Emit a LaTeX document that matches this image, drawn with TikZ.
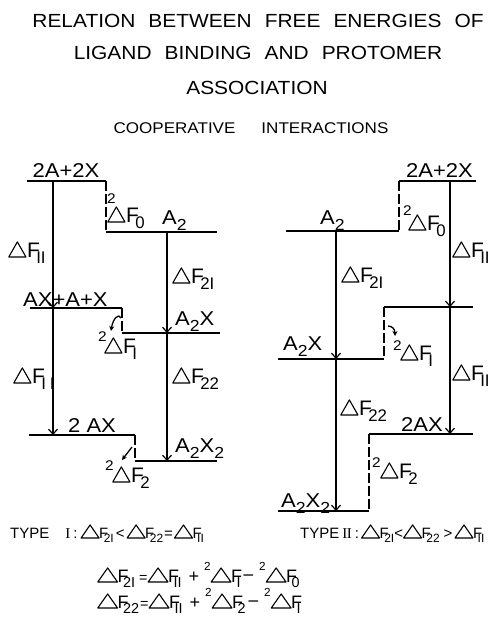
\documentclass[tikz,border=0pt]{standalone}
\usepackage{graphicx}
\usepackage{fontspec}
\setmainfont{Liberation Sans}[FakeStretch=1.1]
\newfontfamily\plain{Liberation Sans}
\newfontfamily\serifd{Liberation Serif}
\usetikzlibrary{arrows.meta}
\newcommand\trw{0.82}
\newcommand\trh{0.72}
\newcommand\tri{\tikz[baseline=0pt,x=1em,y=1em]\draw[line width=1.1pt,line join=round] (0,0)--(\trw,0)--(\trw/2,\trh)--cycle;}
\newcommand\sbx[1]{\raisebox{-0.3em}{\scalebox{0.8}{#1}}}
\newcommand\spx[1]{\raisebox{0.64em}{\scalebox{0.65}{#1}}}
\newcommand\dF[1]{\tri\kern0.5pt F\kern-0.17em\sbx{#1}}
\newcommand\dFb[1]{\tri\kern-0.5pt F\kern-0.3em\sbx{#1}}
\newcommand\mns{\raisebox{0.05em}{\scalebox{1.1}[1]{−}}}
\tikzset{
  lvl/.style={line width=1.4pt},
  dsh/.style={line width=1.4pt, dash pattern=on 10pt off 3pt},
  arr/.style={line width=1.2pt, -{Straight Barb[length=5pt,width=9pt]}},
  cur/.style={line width=1.3pt, -{Stealth[length=5pt,width=5pt]}},
  lab/.style={font=\fontsize{20}{20}\selectfont, inner sep=0pt, anchor=base west},
  dfl/.style={font=\plain\fontsize{21}{21}\selectfont, inner sep=0pt, anchor=base west},
  prescr/.style={font=\fontsize{14}{14}\selectfont, inner sep=0pt, anchor=base west},
  ttl/.style={font=\fontsize{19}{19}\selectfont, inner sep=0pt, anchor=base},
  eqa/.style={font=\plain\fontsize{15}{15}\selectfont, inner sep=0pt, anchor=base west},
  eqb/.style={font=\plain\fontsize{18}{18}\selectfont, inner sep=0pt, anchor=base west}
}
\begin{document}
\begin{tikzpicture}[x=1pt,y=-1pt]
\useasboundingbox (0,0) rectangle (489,623);
% titles
\node[ttl] (h1) at (258,28) {RELATION\hspace{13pt}BETWEEN\hspace{13pt}FREE\hspace{13pt}ENERGIES\hspace{13pt}OF};
\node[ttl] (h2) at (258,60) {LIGAND\hspace{13pt}BINDING\hspace{13pt}AND\hspace{13pt}PROTOMER};
\node[ttl] (h3) at (257,95) {ASSOCIATION};
\node[ttl, font=\fontsize{15.5}{15.5}\selectfont] (h4) at (251,133) {COOPERATIVE\hspace{26pt}INTERACTIONS};

% ---------- left diagram: level coordinates
\coordinate (a1) at (27,181);  \coordinate (a2) at (106,181);
\coordinate (b1) at (106,232); \coordinate (b2) at (217,232);
\coordinate (c1) at (30,308);  \coordinate (c2) at (122,308);
\coordinate (d1) at (122,333); \coordinate (d2) at (220,333);
\coordinate (e1) at (29,435);  \coordinate (e2) at (135,435);
\coordinate (f1) at (135,461); \coordinate (f2) at (217,461);
\coordinate (va0) at (53,181); \coordinate (va1) at (53,308); \coordinate (va2) at (53,435);
\coordinate (vb0) at (167,232); \coordinate (vb1) at (167,333); \coordinate (vb2) at (167,461);
\draw[lvl] (a1) -- (a2);
\draw[lvl] (b1) -- (b2);
\draw[lvl] (c1) -- (c2);
\draw[lvl] (d1) -- (d2);
\draw[lvl] (e1) -- (e2);
\draw[lvl] (f1) -- (f2);
\draw[dsh] (a2) -- (b1);
\draw[dsh] (c2) -- (d1);
\draw[dsh] (e2) -- (f1);
\draw[arr] (va0) -- (va1);
\draw[arr] (va1) -- (va2);
\draw[arr] (vb0) -- (vb1);
\draw[arr] (vb1) -- (vb2);
\coordinate (ca0) at (121,318); \coordinate (ca1) at (111,331);
\draw[cur] (ca0) .. controls (119,313) and (113,318) .. (ca1);
\coordinate (sa0) at (132,447); \coordinate (sa1) at (122,460);
\draw[cur] (sa0) -- (sa1);

\node[lab, anchor=base] (l1) at (66,177) {2A+2X};
\node[lab] (l2) at (162,224) {A\sbx{2}};
\node[prescr] (l3s) at (107,203) {2};
\node[dfl] (l3) at (107,222) {\dF{0}};
\node[dfl] (l4) at (8,257) {\dF{II}};
\node[lab] (l5) at (23,306) {AX+A+X};
\node[lab] (l6) at (175,325) {A\sbx{2}X};
\node[dfl] (l7) at (172,283) {\dF{2I}};
\node[prescr] (l8s) at (98,341) {2};
\node[dfl] (l8) at (104,353) {\dF{I}};
\node[dfl] (l9) at (13,383) {\dF{I\hspace{5pt}I}};
\node[dfl] (l10) at (172,383) {\dF{22}};
\node[lab] (l11) at (68,432) {2 AX};
\node[lab] (l12) at (175,452) {A\sbx{2}X\sbx{2}};
\node[prescr] (l13s) at (105,470) {2};
\node[dfl] (l13) at (112,482) {\dF{2}};

% ---------- right diagram
\coordinate (p1) at (399,181); \coordinate (p2) at (476,181);
\coordinate (q1) at (286,231); \coordinate (q2) at (399,231);
\coordinate (r1) at (384,307); \coordinate (r2) at (473,307);
\coordinate (s1) at (278,359); \coordinate (s2) at (384,359);
\coordinate (u1) at (369,434); \coordinate (u2) at (473,434);
\coordinate (w1) at (278,511); \coordinate (w2) at (369,511);
\coordinate (vc0) at (450,181); \coordinate (vc1) at (450,307); \coordinate (vc2) at (450,434);
\coordinate (vd0) at (336,231); \coordinate (vd1) at (336,359); \coordinate (vd2) at (336,511);
\draw[lvl] (p1) -- (p2);
\draw[lvl] (q1) -- (q2);
\draw[lvl] (r1) -- (r2);
\draw[lvl] (s1) -- (s2);
\draw[lvl] (u1) -- (u2);
\draw[lvl] (w1) -- (w2);
\draw[dsh] (p1) -- (q2);
\draw[dsh] (r1) -- (s2);
\draw[dsh] (u1) -- (w2);
\draw[arr] (vc0) -- (vc1);
\draw[arr] (vc1) -- (vc2);
\draw[arr] (vd0) -- (vd1);
\draw[arr] (vd1) -- (vd2);
\coordinate (cb0) at (388,326); \coordinate (cb1) at (395,336);
\draw[cur] (cb0) .. controls (392,326) and (395,329) .. (cb1);

\node[lab] (r_1) at (406,177) {2A+2X};
\node[lab] (r_2) at (320,224) {A\sbx{2}};
\node[prescr] (r_3s) at (403,215) {2};
\node[dfl] (r_3) at (408,230) {\dF{0}};
\node[dfl] (r_4) at (452,257) {\dF{II}};
\node[dfl] (r_5) at (341,282) {\dF{2I}};
\node[lab] (r_6) at (283,350) {A\sbx{2}X};
\node[prescr] (r_7s) at (393,350) {2};
\node[dfl] (r_7) at (400,360) {\dF{I}};
\node[dfl] (r_8) at (452,380) {\dF{II}};
\node[dfl] (r_9) at (340,415) {\dF{22}};
\node[lab] (r_10) at (401,431) {2AX};
\node[prescr] (r_11s) at (372,467) {2};
\node[dfl] (r_11) at (380,478) {\dF{2}};
\node[lab] (r_12) at (281,507) {A\sbx{2}X\sbx{2}};

% ---------- bottom relations
\node[eqa] (e_1) at (10,538) {\renewcommand\trw{1.2}\renewcommand\trh{0.87}TYPE\hspace{16pt}{\serifd I}\hspace{3pt}:\hspace{3pt}\dFb{2I}\hspace{2pt}<\hspace{2pt}\dFb{22}\hspace{1pt}=\hspace{1pt}\dFb{II}};
\node[eqa] (e_2) at (300,538) {\renewcommand\trw{1.2}\renewcommand\trh{0.87}TYPE\hspace{3pt}{\serifd I\kern-0.5pt I}\hspace{3pt}:\hspace{2pt}\dFb{2I}<\dFb{22}\hspace{4pt}>\hspace{2pt}\dFb{II}};
\node[eqb] (e_3) at (97,582) {\renewcommand\trw{1.1}\renewcommand\trh{0.78}\dFb{2I}\hspace{4pt}\scalebox{0.8}{=}\dFb{II}\hspace{7pt}+\hspace{5pt}\spx{2}\dFb{I}\hspace{2pt}\mns\hspace{5pt}\spx{2}\dFb{0}};
\node[eqb] (e_4) at (97,608) {\renewcommand\trw{1.1}\renewcommand\trh{0.78}\dFb{22}\hspace{1pt}\scalebox{0.8}{=}\dFb{II}\hspace{7pt}+\hspace{5pt}\spx{2}\dFb{2}\hspace{2pt}\mns\hspace{5pt}\spx{2}\dFb{I}};
\end{tikzpicture}
\end{document}
